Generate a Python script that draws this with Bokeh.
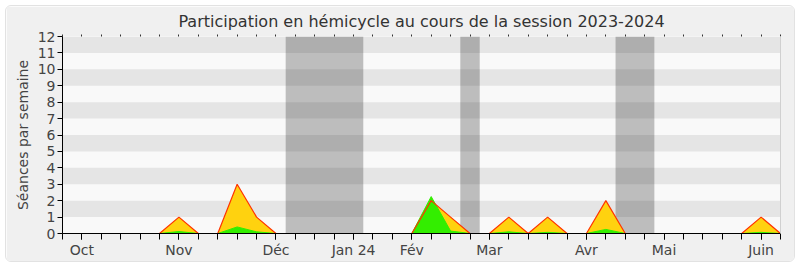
from bokeh.plotting import figure
from bokeh.models import Range1d, FixedTicker, LinearAxis, ColumnDataSource
from bokeh.embed import file_html
from bokeh.resources import INLINE

# ---- data ----
weeks = list(range(38))
presence = [0, 0, 0, 0, 0, 0, 1, 0, 0, 3, 1, 0, 0, 0, 0, 0, 0, 0, 0, 2,
            1, 0, 0, 1, 0, 1, 0, 0, 2, 0, 0, 0, 0, 0, 0, 0, 1, 0]
intervention = [0, 0, 0, 0, 0, 0, 0.12, 0, 0, 0.4, 0.1, 0, 0, 0, 0, 0, 0, 0, 0, 2.25,
                0.15, 0, 0, 0.1, 0, 0.07, 0, 0, 0.25, 0, 0, 0, 0, 0, 0, 0, 0.07, 0]
vac_start = [11.5, 20.5, 28.5]
vac_end = [15.5, 21.5, 30.5]
month_weeks = [1, 6, 11, 15, 18, 22, 27, 31, 36]
month_labels = ["Oct", "Nov", "Déc", "Jan 24", "Fév", "Mar", "Avr", "Mai", "Juin"]
y_ticks = list(range(13))

FONT = "DejaVu Sans"

p = figure(width=790, height=257, output_backend="svg", toolbar_location=None,
           x_range=Range1d(0, 37), y_range=Range1d(0, 12),
           title="Participation en hémicycle au cours de la session 2023-2024",
           min_border_left=56, min_border_right=16, min_border_top=30, min_border_bottom=30)
p.styles = {"margin": "5px", "border": "1px solid #e2e2e2", "border-radius": "6px", "overflow": "hidden"}
p.border_fill_color = "#f0f0f0"
p.background_fill_color = "#f9f9f9"
p.outline_line_color = None

p.title.align = "center"
p.title.text_font = FONT
p.title.text_font_size = "16px"
p.title.text_font_style = "normal"
p.title.text_color = "#333333"
p.title.standoff = 7

p.xgrid.grid_line_color = None
p.ygrid.grid_line_color = None
p.ygrid.ticker = FixedTicker(ticks=y_ticks)
p.ygrid.band_fill_color = "#e5e5e5"
p.ygrid.band_fill_alpha = 1.0

# vacation bands
vac = ColumnDataSource(dict(left=vac_start, right=vac_end,
                            bottom=[0] * len(vac_start), top=[12] * len(vac_start)))
p.quad(left="left", right="right", bottom="bottom", top="top", source=vac,
       fill_color="black", fill_alpha=0.24, line_color=None)

src = ColumnDataSource(dict(x=weeks, pres=presence, inter=intervention))
p.varea(x="x", y1=0, y2="pres", source=src, fill_color="#ffd20f")
p.varea(x="x", y1=0, y2="inter", source=src, fill_color="#33ee00")
p.line(x="x", y="inter", source=src, line_color="#33ee00", line_width=1)
p.line(x="x", y="pres", source=src, line_color="#ff3300", line_width=1.2)

# axes
p.xaxis.ticker = FixedTicker(ticks=month_weeks, minor_ticks=weeks)
p.xaxis.major_label_overrides = {w: l for w, l in zip(month_weeks, month_labels)}
p.xaxis.minor_tick_line_color = "black"
p.xaxis.minor_tick_in = 0
p.xaxis.minor_tick_out = 6
p.xaxis.major_tick_in = 0
p.xaxis.major_tick_out = 6
p.xaxis.axis_line_color = "black"
p.xaxis.major_tick_line_color = "black"
p.xaxis.major_label_text_font = FONT
p.xaxis.major_label_text_font_size = "14px"
p.xaxis.major_label_text_color = "#444444"
p.xaxis.major_label_standoff = 2

p.yaxis.ticker = FixedTicker(ticks=y_ticks)
p.yaxis.minor_tick_line_color = None
p.yaxis.major_tick_in = 0
p.yaxis.major_tick_out = 5
p.yaxis.axis_line_color = "black"
p.yaxis.major_tick_line_color = "black"
p.yaxis.major_label_text_font = FONT
p.yaxis.major_label_text_font_size = "14px"
p.yaxis.major_label_text_color = "#444444"
p.yaxis.major_label_standoff = 2
p.yaxis.axis_label = "Séances par semaine"
p.yaxis.axis_label_text_font = FONT
p.yaxis.axis_label_text_font_size = "14px"
p.yaxis.axis_label_text_font_style = "normal"
p.yaxis.axis_label_text_color = "#444444"
p.yaxis.axis_label_standoff = 4

top = LinearAxis(ticker=FixedTicker(ticks=[], minor_ticks=weeks),
                 axis_line_color=None, major_tick_line_color=None,
                 minor_tick_in=0, minor_tick_out=2, minor_tick_line_color="#333333",
                 major_label_standoff=0)
p.add_layout(top, "above")

right = LinearAxis(ticker=FixedTicker(ticks=[]),
                   axis_line_color="#d0d0d0", major_tick_line_color=None,
                   minor_tick_line_color=None, major_label_standoff=0)
p.add_layout(right, "right")

open("out.html", "w").write(file_html(p, INLINE))
